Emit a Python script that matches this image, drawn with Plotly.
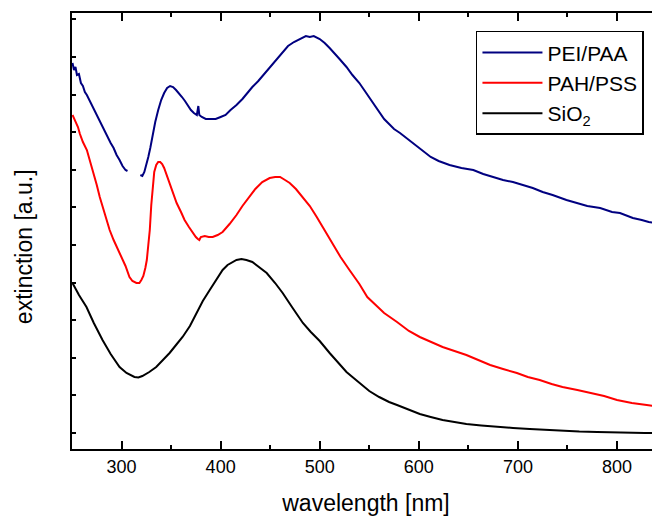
import plotly.graph_objects as go

# ---- data (wavelength in nm, extinction in arbitrary units) ----
pei_wl = [250.5, 252, 253.5, 255, 257, 259, 261, 263, 265, 267, 269, 271, 274, 277, 280, 283, 286, 289,
          292, 295, 298, 301, 304, 306, 312,
          319, 321, 323, 325, 327, 329, 331, 334, 337, 340, 343, 346, 349, 352, 355, 358, 361, 364, 367,
          370, 373, 376, 377.5, 378.5, 381, 385, 390, 395, 400, 405, 410, 416, 422, 427, 432, 438, 444,
          450, 456, 462, 468, 474, 480, 486, 490, 494, 500, 505, 510, 515, 520, 527, 533, 540, 545, 550,
          555, 560, 565, 570, 575, 581, 590, 598, 605, 612, 620, 631, 643, 655, 665, 675, 685, 695, 705,
          715, 725, 735, 749, 760, 770, 783, 790, 795, 803, 810, 816, 825, 832, 840, 843.4]
pei_ext = [3.70, 3.63, 3.66, 3.58, 3.59, 3.50, 3.47, 3.41, 3.38, 3.34, 3.30, 3.25, 3.20, 3.13, 3.07, 3.02,
           2.96, 2.90, 2.85, 2.78, 2.73, 2.67, 2.63, 2.62, None,
           2.58, 2.57, 2.61, 2.68, 2.76, 2.85, 2.96, 3.11, 3.23, 3.33, 3.40, 3.45, 3.47, 3.46, 3.43, 3.40,
           3.36, 3.32, 3.27, 3.23, 3.20, 3.18, 3.27, 3.18, 3.16, 3.14, 3.14, 3.14, 3.16, 3.18, 3.23, 3.28,
           3.34, 3.40, 3.46, 3.52, 3.59, 3.66, 3.73, 3.81, 3.87, 3.91, 3.94, 3.97, 3.96, 3.97, 3.94, 3.90,
           3.85, 3.80, 3.74, 3.66, 3.58, 3.50, 3.43, 3.36, 3.29, 3.21, 3.14, 3.09, 3.04, 3.00, 2.93, 2.87,
           2.81, 2.76, 2.72, 2.68, 2.65, 2.63, 2.59, 2.56, 2.53, 2.51, 2.48, 2.45, 2.41, 2.38, 2.33, 2.30,
           2.27, 2.25, 2.23, 2.21, 2.20, 2.17, 2.15, 2.13, 2.11, 2.10, 2.09]

pah_wl = [250.5, 253, 256, 258, 261, 265, 268, 271, 275, 278, 282, 285, 288, 292, 296, 300, 304, 308,
          311, 315, 318, 320, 322, 324, 325.5, 327, 328.5, 330, 331.5, 333, 335, 337, 339, 341, 343, 346,
          348.5, 352, 355.6, 360, 363.6, 368, 372, 375, 377, 378.5, 380, 384, 388, 392, 397, 402, 409,
          416, 422, 429, 435, 442, 449.5, 455, 460, 465, 469.7, 476, 483, 490, 497, 505, 513, 521, 530,
          540, 548, 556, 565, 578, 590, 601, 612, 624, 636, 648, 660, 672, 685, 699, 710, 722, 734, 745,
          760, 773, 787, 800, 815, 830, 843.4]
pah_ext = [3.18, 3.13, 3.06, 2.99, 2.91, 2.83, 2.73, 2.63, 2.48, 2.36, 2.23, 2.13, 2.03, 1.93, 1.84, 1.76,
           1.67, 1.56, 1.52, 1.50, 1.50, 1.53, 1.57, 1.65, 1.73, 1.88, 2.03, 2.28, 2.48, 2.61, 2.68, 2.71,
           2.71, 2.69, 2.65, 2.57, 2.50, 2.40, 2.30, 2.21, 2.13, 2.06, 2.00, 1.96, 1.94, 1.93, 1.96, 1.97,
           1.96, 1.96, 1.98, 2.01, 2.09, 2.18, 2.27, 2.36, 2.44, 2.51, 2.55, 2.56, 2.56, 2.53, 2.50, 2.44,
           2.36, 2.27, 2.16, 2.03, 1.90, 1.76, 1.63, 1.49, 1.36, 1.28, 1.20, 1.11, 1.02, 0.96, 0.91, 0.86,
           0.82, 0.78, 0.73, 0.68, 0.64, 0.60, 0.56, 0.53, 0.49, 0.46, 0.43, 0.40, 0.37, 0.33, 0.30, 0.28,
           0.26]

sio_wl = [250.5, 257, 264.6, 272, 280.8, 289, 298, 305, 313, 317, 321, 328, 335, 342, 348.5, 355, 361.6,
          369, 375.8, 382, 389, 396, 402, 407, 412, 416, 421, 426, 432, 439, 446.5, 455, 462.6, 472, 483,
          491, 500, 510, 517, 527, 533, 540, 550, 560, 570, 578, 590, 601, 612, 624, 636, 648, 663, 679,
          695, 712, 728, 745.5, 762, 780, 797, 813, 828, 843.4]
sio_ext = [1.50, 1.38, 1.26, 1.10, 0.93, 0.79, 0.66, 0.60, 0.56, 0.555, 0.57, 0.61, 0.66, 0.73, 0.80, 0.88,
           0.96, 1.07, 1.20, 1.32, 1.43, 1.54, 1.63, 1.68, 1.71, 1.73, 1.74, 1.73, 1.71, 1.66, 1.60, 1.50,
           1.40, 1.26, 1.10, 1.01, 0.92, 0.80, 0.72, 0.61, 0.56, 0.50, 0.42, 0.36, 0.31, 0.28, 0.23, 0.19,
           0.16, 0.13, 0.11, 0.09, 0.075, 0.06, 0.05, 0.04, 0.03, 0.02, 0.015, 0.01, 0.005, 0.0, 0.0, 0.0]

series_names = ["PEI/PAA", "PAH/PSS", "SiO<sub>2</sub>"]
x_tick_vals = [300, 400, 500, 600, 700, 800]
x_tick_text = ["300", "400", "500", "600", "700", "800"]
x_title = "wavelength [nm]"
y_title = "extinction [a.u.]"

FONT = "Liberation Sans, Arial, sans-serif"

fig = go.Figure()
fig.add_trace(go.Scatter(x=pei_wl, y=pei_ext, mode="lines", name=series_names[0],
                         line=dict(color="#000080", width=2), connectgaps=False))
fig.add_trace(go.Scatter(x=pah_wl, y=pah_ext, mode="lines", name=series_names[1],
                         line=dict(color="#ff0000", width=2)))
fig.add_trace(go.Scatter(x=sio_wl, y=sio_ext, mode="lines", name=series_names[2],
                         line=dict(color="#000000", width=2)))

# page body has an 8px default margin, so the figure is sized to fill the rest of the window
fig.update_layout(
    width=652, height=508,
    margin=dict(l=64, r=0, t=5, b=67, autoexpand=False),
    paper_bgcolor="white", plot_bgcolor="white",
    font=dict(family=FONT, color="black", size=18),
    showlegend=True,
    legend=dict(x=0.687, y=0.959, xanchor="left", yanchor="top",
                bordercolor="black", borderwidth=1.5, bgcolor="white",
                font=dict(family=FONT, size=21, color="black"),
                itemwidth=60, tracegroupgap=0),
    annotations=[dict(text=y_title, textangle=-90, xref="paper", yref="paper",
                      x=-0.0816, y=0.463, xanchor="center", yanchor="middle", showarrow=False,
                      font=dict(family=FONT, size=23, color="black"))],
)
fig.update_xaxes(
    range=[250, 843.4], tickmode="array", tickvals=x_tick_vals, ticktext=x_tick_text,
    ticks="inside", ticklen=8, tickwidth=1.5, tickcolor="black",
    minor=dict(tickmode="linear", tick0=250, dtick=50, ticks="inside", ticklen=4,
               tickwidth=1.5, tickcolor="black", showgrid=False),
    showline=True, linecolor="black", linewidth=2, mirror="ticks",
    showgrid=False, zeroline=False,
    tickfont=dict(family=FONT, size=18, color="black"),
    title=dict(text=x_title, font=dict(family=FONT, size=23, color="black"), standoff=22),
)
fig.update_yaxes(
    range=[-0.16, 4.20], tickmode="linear", tick0=0, dtick=0.376,
    ticks="inside", ticklen=4, tickwidth=1.5, tickcolor="black",
    showticklabels=False,
    showline=True, linecolor="black", linewidth=2,
    showgrid=False, zeroline=False,
)

fig.write_html("out.html")
